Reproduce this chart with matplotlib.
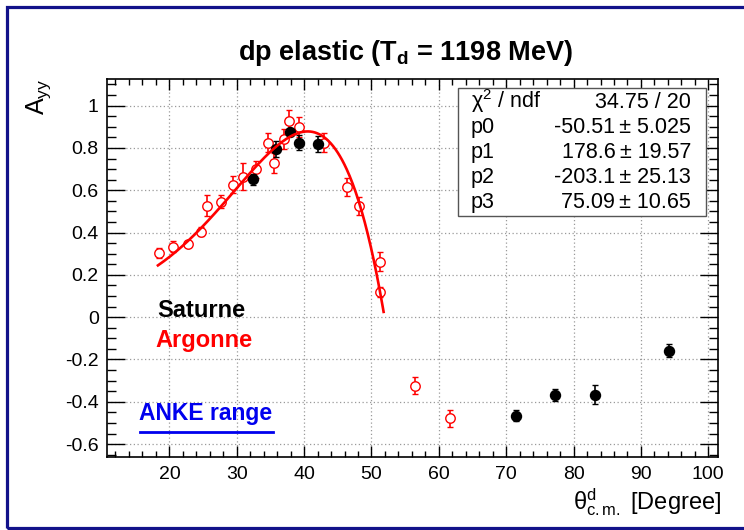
import numpy as np
import matplotlib
matplotlib.use("Agg")
import matplotlib.pyplot as plt
from matplotlib.patches import Rectangle
from matplotlib.lines import Line2D
from matplotlib.ticker import MultipleLocator

plt.rcParams['font.family'] = ['Liberation Sans', 'DejaVu Sans']
plt.rcParams['axes.unicode_minus'] = False
plt.rcParams['mathtext.fontset'] = 'custom'
plt.rcParams['mathtext.rm'] = 'Liberation Sans'
plt.rcParams['mathtext.it'] = 'Liberation Sans:italic'
plt.rcParams['mathtext.bf'] = 'Liberation Sans:bold'

# ---- data ----
argonne_theta = [18.4, 20.5, 22.7, 24.7, 25.6, 27.6, 29.5, 30.9, 32.9, 34.6, 35.5,
                 37.0, 37.7, 39.3, 43.0, 46.4, 48.1, 51.2, 51.2, 56.5, 61.6]
argonne_ayy = [0.303, 0.334, 0.346, 0.405, 0.527, 0.546, 0.627, 0.664, 0.700, 0.825, 0.728,
               0.841, 0.926, 0.899, 0.825, 0.617, 0.526, 0.263, 0.120, -0.323, -0.477]
argonne_err = [0.024, 0.025, 0.015, 0.020, 0.049, 0.032, 0.040, 0.063, 0.040, 0.044, 0.047,
               0.047, 0.052, 0.047, 0.044, 0.042, 0.041, 0.047, 0.024, 0.040, 0.040]

saturne_theta = [32.4, 35.8, 37.9, 39.3, 42.1, 71.4, 77.3, 83.2, 94.1]
saturne_ayy = [0.652, 0.795, 0.876, 0.824, 0.819, -0.465, -0.369, -0.367, -0.158]
saturne_err = [0.027, 0.036, 0.015, 0.036, 0.037, 0.024, 0.028, 0.045, 0.030]

# fit: pol3 in cos(theta), parameters as shown in the stats box
fit_params = [-50.51, 178.6, -203.1, 75.09]
fit_errors = [5.025, 19.57, 25.13, 10.65]
fit_range = [18.3, 51.8]
chi2_ndf = "34.75 / 20"

x_ticks = [20, 30, 40, 50, 60, 70, 80, 90, 100]
y_ticks = [-0.6, -0.4, -0.2, 0, 0.2, 0.4, 0.6, 0.8, 1]

W, H = 744, 530
fig = plt.figure(figsize=(W / 100, H / 100), dpi=100)
fig.patch.set_facecolor('white')

def fx(px):
    return px / W

def fy(py):
    return 1 - py / H

ax = fig.add_axes([fx(107), fy(457), (718 - 107) / W, (457 - 79) / H])
ax.set_xlim(10.74, 101.44)
ax.set_ylim(-0.661, 1.126)

ax.set_xticks(x_ticks)
ax.set_xticklabels([str(t) for t in x_ticks])
ax.set_yticks(y_ticks)
ax.set_yticklabels(['-0.6', '-0.4', '-0.2', '0', '0.2', '0.4', '0.6', '0.8', '1'])
ax.xaxis.set_minor_locator(MultipleLocator(2))
ax.yaxis.set_minor_locator(MultipleLocator(0.05))
ax.tick_params(axis='both', which='both', direction='in', top=True, right=True,
               colors='black', labelsize=14)
ax.tick_params(axis='x', which='major', length=8.2, width=1.0, pad=6.5)
ax.tick_params(axis='x', which='minor', length=4.1, width=1.0)
ax.tick_params(axis='y', which='major', length=12.7, width=1.0, pad=6)
ax.tick_params(axis='y', which='minor', length=6.4, width=1.0)
for s in ax.spines.values():
    s.set_linewidth(1.2)
    s.set_color('black')
ax.grid(True, which='major', color='#9a9a9a', linestyle=(0, (1, 2)), linewidth=0.9)
ax.set_axisbelow(True)

# data
ax.errorbar(argonne_theta, argonne_ayy, yerr=argonne_err, fmt='o', color='#ff0000',
            mfc='white', mec='#ff0000', ms=6.8, mew=1.0, elinewidth=1.2,
            capsize=2.5, capthick=1.2, zorder=3)
ax.errorbar(saturne_theta, saturne_ayy, yerr=saturne_err, fmt='o', color='black',
            mfc='black', mec='black', ms=7.2, mew=1.0, elinewidth=1.2,
            capsize=2.5, capthick=1.2, zorder=4)

th = np.linspace(fit_range[0], fit_range[1], 300)
c = np.cos(np.radians(th))
fit_curve = sum(p * c ** i for i, p in enumerate(fit_params))
ax.plot(th, fit_curve, color='#ff0000', lw=1.9, zorder=5)

# title and axis labels
fig.text(fx(406), fy(53), r"dp elastic (T$_\mathregular{d}$ = 1198 MeV)", fontsize=19.5,
         fontweight='bold', ha='center', va='center')
fig.text(fx(39), fy(79), r"A$_\mathregular{yy}$", fontsize=18, rotation=90,
         ha='center', va='top')
fig.text(fx(721), fy(509), r"θ$^\mathregular{d}_\mathregular{c.m.}$ [Degree]", fontsize=17,
         ha='right', va='baseline')

# labels in plot
fig.text(fx(157), fy(317), "Saturne", fontsize=17, fontweight='bold', color='black',
         ha='left', va='baseline')
fig.text(fx(155), fy(346.5), "Argonne", fontsize=17, fontweight='bold', color='#ff0000',
         ha='left', va='baseline')
fig.text(fx(139), fy(420), "ANKE range", fontsize=16.5, fontweight='bold', color='#0000ee',
         ha='left', va='baseline')
fig.add_artist(Line2D([fx(140), fx(272.5)], [fy(431.7), fy(431.7)], color='#0000ee',
                      lw=2.0, transform=fig.transFigure))

# stats box
fig.add_artist(Rectangle((fx(458), fy(216)), (706 - 458) / W, (216 - 88) / H,
                         transform=fig.transFigure, facecolor='white',
                         edgecolor='#555555', lw=1.0, zorder=6))
rows = [("χ$^\\mathregular{2}$ / ndf", chi2_ndf)]
for i, (p, e) in enumerate(zip(fit_params, fit_errors)):
    rows.append((f"p{i}", f"{p:g}\u2009± {e:g}"))
for k, (lab, val) in enumerate(rows):
    yb = 108 + 25 * k
    fig.text(fx(471), fy(yb), lab, fontsize=15.5, ha='left', va='baseline', zorder=7)
    fig.text(fx(691), fy(yb), val, fontsize=15.5, ha='right', va='baseline', zorder=7)

# outer frame
fig.add_artist(Rectangle((fx(7), fy(527.5)), (760 - 7) / W, (527.5 - 6.5) / H,
                         transform=fig.transFigure, facecolor='none',
                         edgecolor='#12128a', lw=2.3, zorder=10))

fig.savefig("out.png", dpi=100, facecolor='white')
